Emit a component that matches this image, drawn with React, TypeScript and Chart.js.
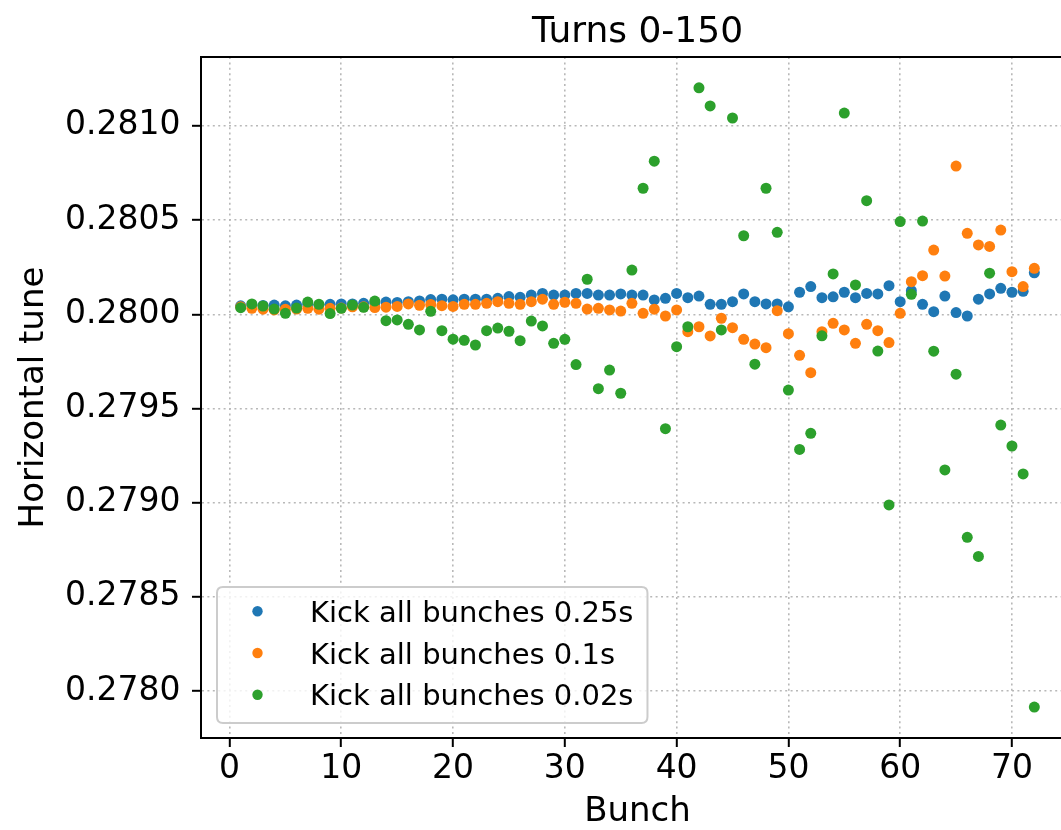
import React, { useEffect, useRef } from "react";
import { Chart, registerables } from "chart.js";

Chart.register(...registerables);

const FONT = "DejaVu Sans";
const TITLE = "Turns 0-150";
const X_LABEL = "Bunch";
const Y_LABEL = "Horizontal tune";

const bunches = [
  1, 2, 3, 4, 5, 6, 7, 8, 9, 10, 11, 12, 13, 14, 15, 16, 17, 18, 19, 20, 21, 22, 23, 24,
  25, 26, 27, 28, 29, 30, 31, 32, 33, 34, 35, 36, 37, 38, 39, 40, 41, 42, 43, 44, 45, 46, 47, 48,
  49, 50, 51, 52, 53, 54, 55, 56, 57, 58, 59, 60, 61, 62, 63, 64, 65, 66, 67, 68, 69, 70, 71, 72,
];

const kick025 = [
  0.280045, 0.28005, 0.280047, 0.280049, 0.280045, 0.280049, 0.280052, 0.28005, 0.280053, 0.280055,
  0.280055, 0.280058, 0.28006, 0.280065, 0.280063, 0.280067, 0.280071, 0.280078, 0.28008, 0.280077,
  0.28008, 0.28008, 0.28008, 0.280085, 0.280094, 0.28009, 0.280102, 0.280111, 0.280102, 0.280102,
  0.280111, 0.280111, 0.280102, 0.280102, 0.280108, 0.280102, 0.280102, 0.280076, 0.280085, 0.280111,
  0.280088, 0.280097, 0.280053, 0.280053, 0.280067, 0.280108, 0.280067, 0.280055, 0.280055, 0.28004,
  0.280117, 0.280147, 0.280088, 0.280093, 0.280117, 0.280088, 0.280111, 0.280108, 0.280152, 0.280067,
  0.280125, 0.280053, 0.280014, 0.280097, 0.280009, 0.279991, 0.28008, 0.280108, 0.280138, 0.280117,
  0.280122, 0.28022,
];

const kick01 = [
  0.28004, 0.280032, 0.280027, 0.280023, 0.280027, 0.280028, 0.280032, 0.280027, 0.280032, 0.280033,
  0.28004, 0.28004, 0.280036, 0.280038, 0.280042, 0.280055, 0.280048, 0.280052, 0.280046, 0.280042,
  0.280053, 0.280053, 0.280058, 0.280067, 0.280058, 0.280053, 0.280067, 0.28008, 0.280053, 0.280064,
  0.280058, 0.280028, 0.280032, 0.280023, 0.280017, 0.280058, 0.280005, 0.280027, 0.279991, 0.280023,
  0.279908, 0.279934, 0.279885, 0.279979, 0.279929, 0.279867, 0.279842, 0.279823, 0.280019, 0.279897,
  0.279782, 0.27969, 0.279908, 0.279952, 0.279917, 0.279846, 0.279947, 0.279913, 0.27985, 0.280005,
  0.280173, 0.280205, 0.280341, 0.280203, 0.280787, 0.28043, 0.280368, 0.28036, 0.280447, 0.280226,
  0.280147, 0.280244,
];

const kick002 = [
  0.280035, 0.280055, 0.280044, 0.280028, 0.280005, 0.280033, 0.280065, 0.280053, 0.280004, 0.280032,
  0.280049, 0.280037, 0.28007, 0.279966, 0.27997, 0.279947, 0.279917, 0.280016, 0.279913, 0.279868,
  0.279862, 0.279837, 0.279913, 0.279927, 0.27991, 0.27986, 0.279964, 0.279938, 0.279846, 0.279867,
  0.279733, 0.280186, 0.279605, 0.279704, 0.279581, 0.280235, 0.280669, 0.280813, 0.279393, 0.279828,
  0.279934, 0.281202, 0.281106, 0.279917, 0.281042, 0.280417, 0.279735, 0.280669, 0.280435, 0.279598,
  0.279283, 0.279368, 0.279886, 0.280214, 0.281068, 0.280156, 0.280603, 0.279805, 0.278988, 0.280492,
  0.280106, 0.280495, 0.279804, 0.279174, 0.279682, 0.278816, 0.278715, 0.280218, 0.279412, 0.279301,
  0.279153, 0.277915,
];

const seriesLabels = ["Kick all bunches 0.25s", "Kick all bunches 0.1s", "Kick all bunches 0.02s"];
const seriesColors = ["#1f77b4", "#ff7f0e", "#2ca02c"];

const xTicks = [0, 10, 20, 30, 40, 50, 60, 70];
const yTicks = [0.278, 0.2785, 0.279, 0.2795, 0.28, 0.2805, 0.281];

const X_MIN = -2.55;
const X_MAX = 75.55;
const Y_MIN = 0.2777511;
const Y_MAX = 0.2813657;

const decorPlugin = {
  id: "decor",
  afterDraw(chart: any) {
    const { ctx, chartArea: a } = chart;
    ctx.save();
    // top and right spines
    ctx.strokeStyle = "#000";
    ctx.lineWidth = 2;
    ctx.beginPath();
    ctx.moveTo(a.left, a.top);
    ctx.lineTo(a.right, a.top);
    ctx.lineTo(a.right, a.bottom);
    ctx.stroke();

    // title
    ctx.fillStyle = "#000";
    ctx.font = `36px "${FONT}"`;
    ctx.textAlign = "center";
    ctx.textBaseline = "alphabetic";
    ctx.fillText(TITLE, (a.left + a.right) / 2, a.top - 15);

    // legend
    ctx.font = `29px "${FONT}"`;
    const boxL = a.left + 16;
    const boxB = a.bottom - 15;
    const boxT = boxB - 136;
    const textX = boxL + 93;
    let maxW = 0;
    chart.data.datasets.forEach((d: any) => {
      maxW = Math.max(maxW, ctx.measureText(d.label).width);
    });
    const boxR = textX + maxW + 14;
    const r = 6;
    ctx.beginPath();
    ctx.moveTo(boxL + r, boxT);
    ctx.lineTo(boxR - r, boxT);
    ctx.quadraticCurveTo(boxR, boxT, boxR, boxT + r);
    ctx.lineTo(boxR, boxB - r);
    ctx.quadraticCurveTo(boxR, boxB, boxR - r, boxB);
    ctx.lineTo(boxL + r, boxB);
    ctx.quadraticCurveTo(boxL, boxB, boxL, boxB - r);
    ctx.lineTo(boxL, boxT + r);
    ctx.quadraticCurveTo(boxL, boxT, boxL + r, boxT);
    ctx.closePath();
    ctx.fillStyle = "rgba(255,255,255,0.8)";
    ctx.fill();
    ctx.strokeStyle = "#cccccc";
    ctx.lineWidth = 2;
    ctx.stroke();

    chart.data.datasets.forEach((d: any, i: number) => {
      const cy = boxB - 28.3 - 41.75 * (2 - i);
      ctx.beginPath();
      ctx.arc(boxL + 40.5, cy, 5.2, 0, Math.PI * 2);
      ctx.fillStyle = d.backgroundColor;
      ctx.fill();
      ctx.fillStyle = "#000";
      ctx.textAlign = "left";
      ctx.textBaseline = "alphabetic";
      ctx.fillText(d.label, textX, cy + 10.6);
    });
    ctx.restore();
  },
};

const gridCfg = {
  color: "#b8b8b8",
  lineWidth: 1.6,
  tickLength: 9,
  tickColor: "#000",
  tickWidth: 2,
  tickBorderDash: [],
};

export default function App() {
  const ref = useRef<HTMLCanvasElement>(null);

  useEffect(() => {
    if (!ref.current) return;
    const allSeries = [kick025, kick01, kick002];
    const chart = new Chart(ref.current, {
      type: "scatter",
      data: {
        datasets: allSeries.map((vals, i) => ({
          label: seriesLabels[i],
          data: bunches.map((b, j) => ({ x: b, y: vals[j] })),
          backgroundColor: seriesColors[i],
          borderColor: seriesColors[i],
          pointRadius: 5.5,
          pointHoverRadius: 5.5,
          pointBorderWidth: 0,
          order: 2 - i,
        })),
      },
      options: {
        animation: false,
        responsive: true,
        maintainAspectRatio: false,
        devicePixelRatio: 1,
        layout: { padding: { top: 57, right: 26, left: 0, bottom: 0 } },
        plugins: {
          legend: { display: false },
          title: { display: false },
          tooltip: { enabled: false },
        },
        events: [],
        scales: {
          x: {
            type: "linear",
            min: X_MIN,
            max: X_MAX,
            afterBuildTicks: (s: any) => {
              s.ticks = xTicks.map((v) => ({ value: v }));
            },
            afterFit: (s: any) => {
              s.height = 92;
            },
            ticks: {
              font: { family: FONT, size: 33 },
              color: "#000",
              padding: 3,
              maxRotation: 0,
              autoSkip: false,
              callback: (v: any) => String(v),
            },
            grid: gridCfg,
            border: { display: true, color: "#000", width: 2, dash: [2, 3.4] },
            title: {
              display: true,
              text: X_LABEL,
              color: "#000",
              font: { family: FONT, size: 34, lineHeight: 1 },
              padding: { top: 0, bottom: 1 },
            },
          },
          y: {
            type: "linear",
            min: Y_MIN,
            max: Y_MAX,
            afterBuildTicks: (s: any) => {
              s.ticks = yTicks.map((v) => ({ value: v }));
            },
            afterFit: (s: any) => {
              s.width = 201;
            },
            ticks: {
              font: { family: FONT, size: 33 },
              color: "#000",
              padding: 11.5,
              autoSkip: false,
              callback: (v: any) => Number(v).toFixed(4),
            },
            grid: gridCfg,
            border: { display: true, color: "#000", width: 2, dash: [2, 3.4] },
            title: {
              display: true,
              text: Y_LABEL,
              color: "#000",
              font: { family: FONT, size: 34, lineHeight: 1 },
              padding: { top: 17, bottom: 0 },
            },
          },
        },
      },
      plugins: [decorPlugin],
    } as any);
    return () => chart.destroy();
  }, []);

  return (
    <div
      style={{
        position: "fixed",
        left: 0,
        top: 0,
        width: 1061,
        height: 830,
        overflow: "hidden",
        background: "#fff",
      }}
    >
      <div style={{ position: "relative", width: 1100, height: 830 }}>
        <canvas ref={ref} />
      </div>
    </div>
  );
}
